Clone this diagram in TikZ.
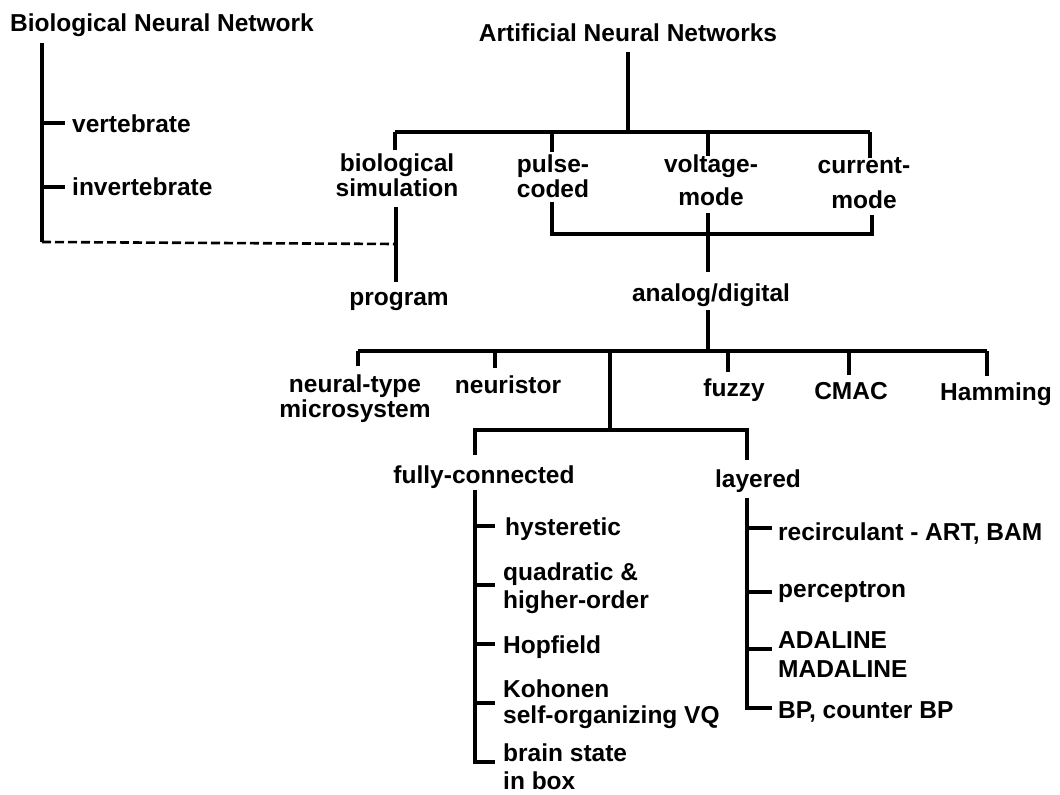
\documentclass[tikz,border=0pt]{standalone}
\usepackage{fontspec}
\setmainfont{Liberation Sans}
\begin{document}
\begin{tikzpicture}[x=1pt,y=-1pt,
  lbl/.style={inner sep=0pt, anchor=base, font=\fontsize{24.5}{25}\selectfont\bfseries},
  lblc/.style={lbl, align=center},
  lbll/.style={lbl, anchor=base west, align=left},
  wire/.style={line width=3.4pt, line join=miter},
  link/.style={line width=2.6pt, dash pattern=on 9pt off 4pt}]
\useasboundingbox (0,0) rectangle (1060,795);

% ---------- labels (multi-line labels are placed by their last baseline) ----------
\node[lbll] (bnn)    at (10,31)   {Biological Neural Network};
\node[lbll] (vert)   at (72,132)  {vertebrate};
\node[lbll] (invert) at (72,195)  {invertebrate};
\node[lbl]  (ann)    at (628,41)  {Artificial Neural Networks};
\node[lblc] (biosim) at (397,196) {biological\\simulation};
\node[lblc] (pulse)  at (553,197) {pulse-\\coded};
\node[lblc] (volt)   at (711,205) {voltage-\\[8pt]mode};
\node[lblc] (curr)   at (864,208) {current-\\[10pt]mode};
\node[lbl]  (prog)   at (399,305) {program};
\node[lbl]  (ad)     at (711,301) {analog/digital};
\node[lblc] (ntm)    at (355,417) {neural-type\\microsystem};
\node[lbl]  (neur)   at (508,393) {neuristor};
\node[lbl]  (fuzzy)  at (734,396) {fuzzy};
\node[lbl]  (cmac)   at (851,399) {CMAC};
\node[lbl]  (ham)    at (996,400) {Hamming};
\node[lbl]  (fc)     at (484,483) {fully-connected};
\node[lbl]  (lay)    at (758,487) {layered};
\node[lbll] (hyst)   at (505,535) {hysteretic};
\node[lbll] (quad)   at (503,608) {quadratic \&\\[3pt]higher-order};
\node[lbll] (hop)    at (503,653) {Hopfield};
\node[lbll] (koh)    at (503,723) {Kohonen\\[1pt]self-organizing VQ};
\node[lbll] (bsb)    at (503,789) {brain state\\[3pt]in box};
\node[lbll] (rec)    at (778,540) {recirculant - ART, BAM};
\node[lbll] (perc)   at (778,597) {perceptron};
\node[lbll] (ada)    at (778,677) {ADALINE\\[4pt]MADALINE};
\node[lbll] (bp)     at (778,718) {BP, counter BP};

% ---------- biological neural network ----------
\coordinate (bnnTop)    at (42,43);
\coordinate (bnnEnd)    at (42,242);
\coordinate (vertT)     at (65,123);
\coordinate (invertT)   at (65,187);
\coordinate (bioLink)   at (396,244);
\draw[wire] (bnnTop) -- (bnnEnd);
\draw[wire] (bnnTop |- vertT) -- (vertT);
\draw[wire] (bnnTop |- invertT) -- (invertT);
\draw[link] (bnnEnd) -- (bioLink);

% ---------- artificial neural networks ----------
\coordinate (annTop)   at (628,52);
\coordinate (annBar)   at (628,132);
\coordinate (barL)     at (395,132);
\coordinate (barR)     at (870,132);
\coordinate (bioT)     at (395,150);
\coordinate (pulseT)   at (552,152);
\coordinate (voltT)    at (708,156);
\coordinate (currT)    at (870,158);
\draw[wire] (annTop) -- (annBar);
\draw[wire] (barL) -- (barR);
\draw[wire] (bioT) -- (bioT |- barL);
\draw[wire] (pulseT) -- (pulseT |- barL);
\draw[wire] (voltT) -- (voltT |- barL);
\draw[wire] (currT) -- (currT |- barL);

% biological simulation -> program
\coordinate (bioB)  at (396,207);
\coordinate (progT) at (396,282);
\draw[wire] (bioB) -- (progT);

% pulse-coded / voltage-mode / current-mode -> analog/digital
\coordinate (pulseB)  at (552,202);
\coordinate (joinBar) at (552,234);
\coordinate (currB)   at (872,215);
\coordinate (voltB)   at (708,213);
\coordinate (adT)     at (708,272);
\draw[wire] (pulseB) -- (joinBar) -- (currB |- joinBar) -- (currB);
\draw[wire] (voltB) -- (adT);

% analog/digital -> implementations
\coordinate (adB)    at (708,310);
\coordinate (midBar) at (708,351);
\coordinate (midL)   at (358,351);
\coordinate (midR)   at (987,351);
\coordinate (ntmT)   at (358,366);
\coordinate (neurT)  at (495,368);
\coordinate (fuzzyT) at (728,372);
\coordinate (cmacT)  at (849,375);
\coordinate (hamT)   at (987,376);
\coordinate (netT)   at (610,351);
\coordinate (netB)   at (610,430);
\draw[wire] (adB) -- (midBar);
\draw[wire] (midL) -- (midR);
\draw[wire] (ntmT) -- (ntmT |- midL);
\draw[wire] (neurT) -- (neurT |- midL);
\draw[wire] (fuzzyT) -- (fuzzyT |- midL);
\draw[wire] (cmacT) -- (cmacT |- midL);
\draw[wire] (hamT) -- (hamT |- midL);
\draw[wire] (netT) -- (netB);

% network topologies
\coordinate (fcT)  at (475,455);
\coordinate (layT) at (747,460);
\draw[wire] (fcT) -- (fcT |- netB) -- (layT |- netB) -- (layT);

% fully-connected family
\coordinate (fcB)   at (475,490);
\coordinate (fcEnd) at (475,762);
\coordinate (hystT) at (495,526);
\coordinate (quadT) at (495,585);
\coordinate (hopT)  at (495,644);
\coordinate (kohT)  at (495,703);
\coordinate (bsbT)  at (495,762);
\draw[wire] (fcB) -- (fcEnd) -- (bsbT);
\draw[wire] (fcB |- hystT) -- (hystT);
\draw[wire] (fcB |- quadT) -- (quadT);
\draw[wire] (fcB |- hopT) -- (hopT);
\draw[wire] (fcB |- kohT) -- (kohT);

% layered family
\coordinate (layB)   at (747,498);
\coordinate (layEnd) at (747,708);
\coordinate (recT)   at (772,528);
\coordinate (percT)  at (772,592);
\coordinate (adaT)   at (772,649);
\coordinate (bpT)    at (772,708);
\draw[wire] (layB) -- (layEnd) -- (bpT);
\draw[wire] (layB |- recT) -- (recT);
\draw[wire] (layB |- percT) -- (percT);
\draw[wire] (layB |- adaT) -- (adaT);
\end{tikzpicture}
\end{document}
